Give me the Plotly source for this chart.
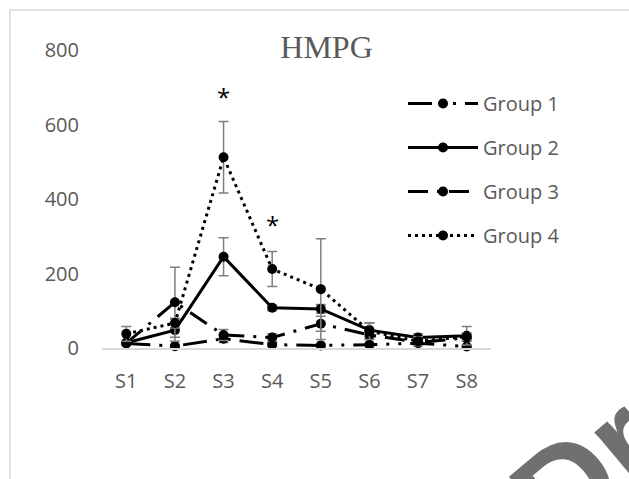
import plotly.graph_objects as go

categories = ["S1", "S2", "S3", "S4", "S5", "S6", "S7", "S8"]
group1 = [12, 5, 25, 9, 7, 9, 13, 4]
group2 = [14, 48, 245, 108, 105, 48, 28, 33]
group3 = [13, 123, 35, 28, 65, 35, 15, 27]
group4 = [38, 67, 512, 212, 158, 45, 18, 31]
err1 = [3, 3, 10, 4, 3, 3, 3, 3]
err2 = [5, 30, 51, 7, 12, 20, 10, 25]
err3 = [5, 94, 15, 10, 20, 10, 8, 8]
err4 = [20, 13, 96, 47, 135, 22, 12, 10]
series_names = ["Group 1", "Group 2", "Group 3", "Group 4"]
star_cats = ["S3", "S4"]
star_vals = [675, 331]
y_ticks = [0, 200, 400, 600, 800]

values = [group1, group2, group3, group4]
errors = [err1, err2, err3, err4]
dashes = ["24px,9px,3px,9px,3px,9px", "solid", "20px,9px,3px,9px", "3px,4px"]

TXT = "#595959"
W, H = 629, 479
L, R, T, B = 102, 138, 50, 131
PW, PH = W - L - R, H - T - B


def px(xp):
    return (xp - L) / PW


def py(yp):
    return (H - B - yp) / PH


fig = go.Figure()
for i, (name, vals, errs, dash) in enumerate(zip(series_names, values, errors, dashes)):
    fig.add_trace(go.Scatter(
        x=categories, y=vals, name=name, mode="lines+markers",
        line=dict(color="black", width=3, dash=dash),
        marker=dict(color="black", size=10),
        error_y=dict(type="data", array=errs, visible=True, color="#7f7f7f",
                     thickness=1.5, width=5),
        cliponaxis=False, legendgroup=name,
    ))

for c, v in zip(star_cats, star_vals):
    fig.add_annotation(x=c, y=v, text="*", showarrow=False,
                       font=dict(family="Open Sans", size=24, color="black"),
                       yanchor="middle")

# watermark fragment
fig.add_annotation(xref="paper", yref="paper", x=px(586), y=py(470),
                   text="<b>Dr</b>", showarrow=False, textangle=-40,
                   xanchor="center", yanchor="middle",
                   font=dict(family="Liberation Sans", size=130, color="#707070"))

# chart border
fig.add_shape(type="rect", xref="paper", yref="paper",
              x0=px(10), x1=px(700), y0=py(560), y1=py(10),
              line=dict(color="#d9d9d9", width=1.5), layer="below")

fig.update_layout(
    width=W, height=H,
    margin=dict(l=L, r=R, t=T, b=B),
    paper_bgcolor="white", plot_bgcolor="white",
    title=dict(text="HMPG", x=326.5 / W, xanchor="center",
               y=1 - 46.5 / H, yanchor="middle",
               font=dict(family="Liberation Serif", size=32, color=TXT)),
    font=dict(family="Open Sans", size=20, color=TXT),
    showlegend=True,
    legend=dict(x=px(403), xanchor="left", y=py(84), yanchor="top",
                bgcolor="rgba(0,0,0,0)", itemwidth=70, tracegroupgap=15,
                font=dict(family="Open Sans", size=20, color=TXT)),
    xaxis=dict(type="category", range=[-0.5, 7.5], showgrid=False,
               showline=True, linecolor="#d9d9d9", linewidth=1.5,
               ticks="", ticklabelstandoff=14, zeroline=False),
    yaxis=dict(range=[0, 800], tickvals=y_ticks, showgrid=False, showline=False,
               zeroline=False, ticks="", ticklabelstandoff=22),
)

fig.write_html(
    "out.html",
    config={"displayModeBar": False},
    post_script="document.body.style.margin='0';"
                "document.documentElement.style.overflow='hidden';",
)
